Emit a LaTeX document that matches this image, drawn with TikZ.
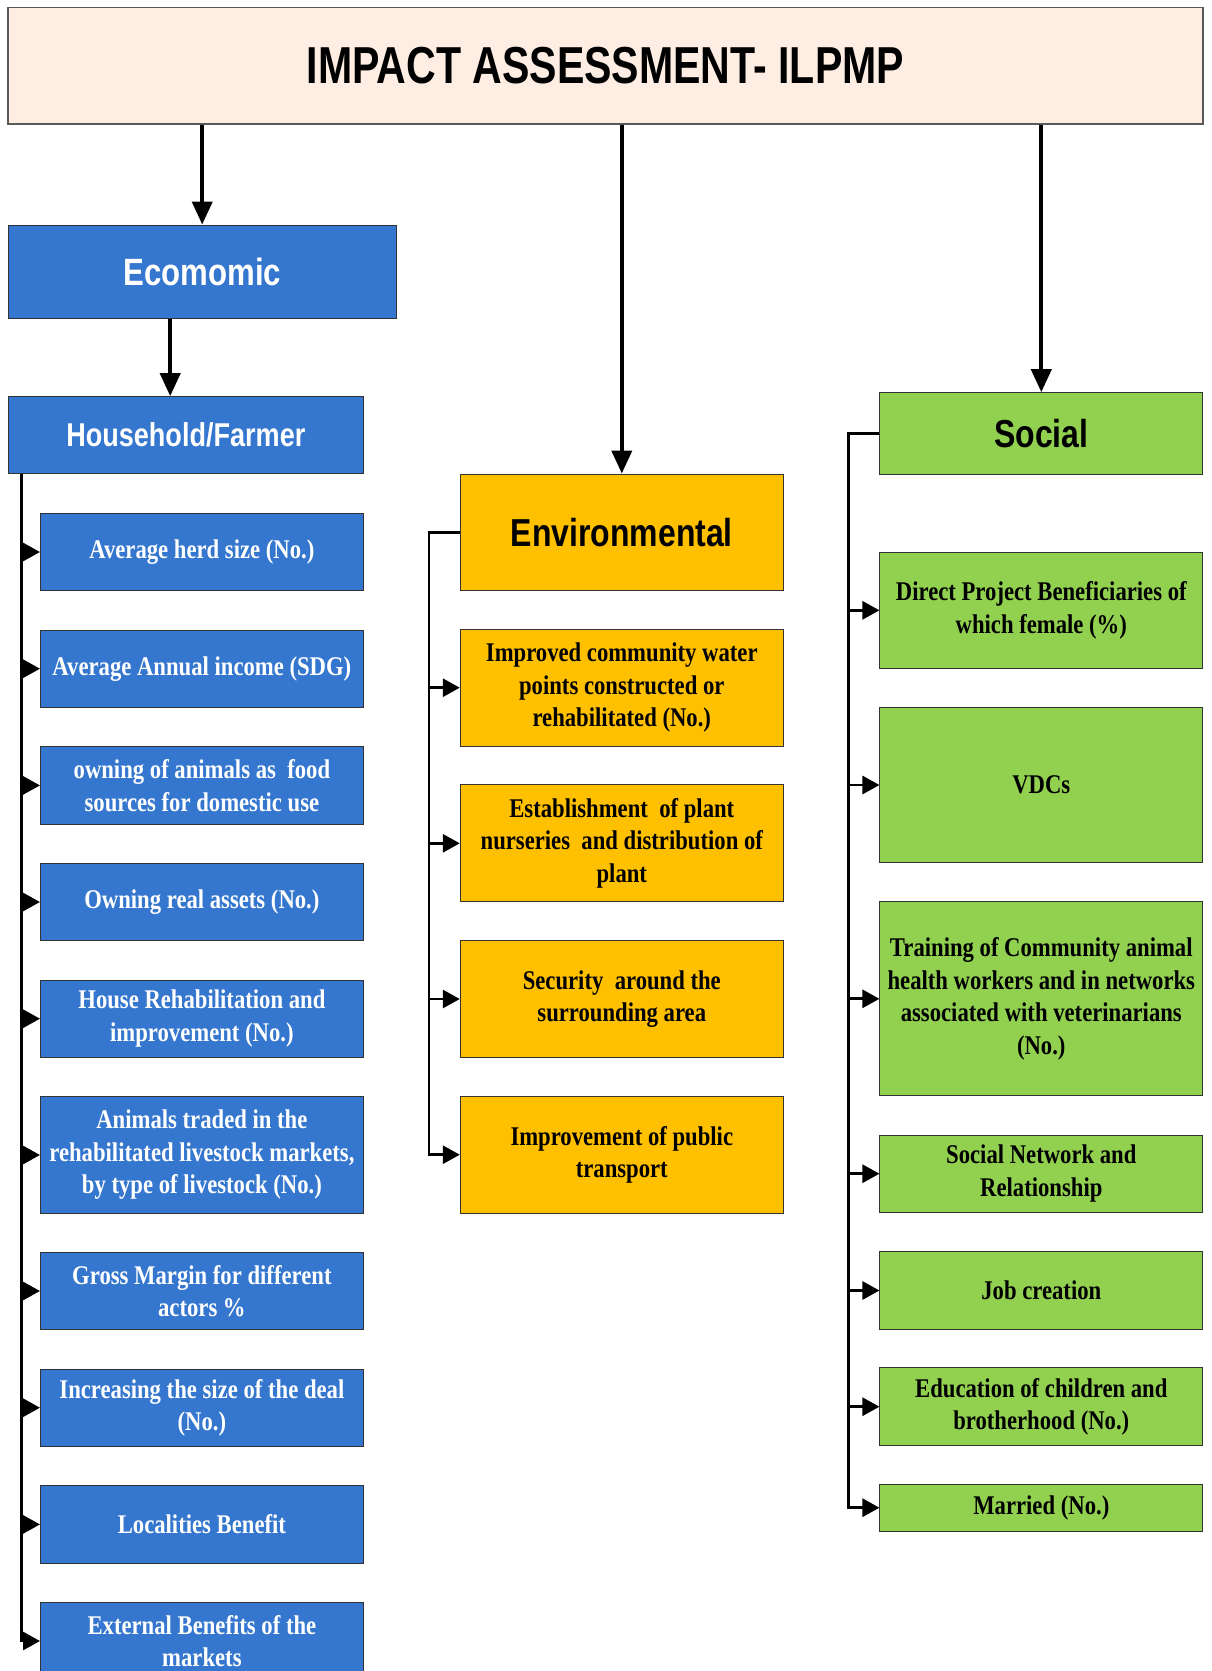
\documentclass[tikz,border=0pt]{standalone}
\usepackage{fontspec}
\usetikzlibrary{arrows.meta}
\newfontfamily\hdfont[FakeStretch=0.82]{Liberation Sans}
\newfontfamily\bannerfont[FakeStretch=0.79]{Liberation Sans}
\newfontfamily\itemfont[FakeStretch=0.84]{Liberation Serif}
\definecolor{ecoblue}{RGB}{53,119,206}
\definecolor{envgold}{RGB}{255,192,0}
\definecolor{socgreen}{RGB}{146,208,80}
\definecolor{titlefill}{RGB}{253,237,227}
\tikzset{
  box/.style={draw=black!80, line width=1pt, inner sep=0pt, align=center},
  headtext/.style={font=\hdfont\bfseries\fontsize{#1}{#1}\selectfont},
  itemtext/.style={font=\itemfont\bfseries\fontsize{27}{32.5}\selectfont},
  titlebox/.style={box, draw=black!65, line width=1.4pt, fill=titlefill,
    font=\bannerfont\bfseries\fontsize{52}{52}\selectfont},
  bluehead/.style={box, fill=ecoblue, text=white},
  bluebox/.style={box, fill=ecoblue, text=white, itemtext, minimum width=322.8pt},
  goldbox/.style={box, fill=envgold, itemtext, minimum width=323pt},
  greenbox/.style={box, fill=socgreen, itemtext, minimum width=322.7pt},
  toparrow/.style={line width=4pt, -{Triangle[length=23pt, width=20pt]}},
  conn/.style={line width=2.8pt},
  branch/.style={conn, -{Triangle[length=17pt, width=18pt]}}
}
\begin{document}
\begin{tikzpicture}[x=1pt, y=-1pt]
\useasboundingbox (0,0) rectangle (1211,1671);
\clip (0,0) rectangle (1211,1671);

% header
\node[titlebox, minimum width=1195pt, minimum height=116.5pt] (title) at (605.5,65.75) {\raisebox{1.5pt}{IMPACT ASSESSMENT- ILPMP}};

% economic branch
\node[bluehead, headtext=38, minimum width=387.7pt, minimum height=93.3pt] (econ) at (202.2,271.7) {Ecomomic};
\node[bluehead, headtext=33, minimum width=355pt, minimum height=77.3pt] (hh) at (185.8,435.3) {Household/Farmer};

\node[bluebox, minimum height=77.4pt] (b1) at (201.9,552.0) {Average herd size (No.)};
\node[bluebox, minimum height=77.4pt] (b2) at (201.9,668.7) {Average Annual income (SDG)};
\node[bluebox, minimum height=77.4pt] (b3) at (201.9,785.4) {owning of animals as\ \ food\\sources for domestic use};
\node[bluebox, minimum height=77.4pt] (b4) at (201.9,902.0) {Owning real assets (No.)};
\node[bluebox, minimum height=77.4pt] (b5) at (201.9,1018.7) {House Rehabilitation and\\improvement (No.)};
\node[bluebox, minimum height=116.7pt] (b6) at (201.9,1155.0) {Animals traded in the\\rehabilitated livestock markets,\\by type of livestock (No.)};
\node[bluebox, minimum height=77.4pt] (b7) at (201.9,1291.0) {Gross Margin for different\\actors \%};
\node[bluebox, minimum height=77.4pt] (b8) at (201.9,1407.7) {Increasing the size of the deal\\(No.)};
\node[bluebox, minimum height=77.4pt] (b9) at (201.9,1524.4) {Localities Benefit};
\node[bluebox, minimum height=77.4pt] (b10) at (201.9,1641.0) {External Benefits of the\\markets};

% environmental branch
\node[box, fill=envgold, headtext=39, minimum width=323pt, minimum height=116.3pt] (envh) at (621.8,532.2) {Environmental};
\node[goldbox, minimum height=116.7pt] (e1) at (621.8,687.7) {Improved community water\\points constructed or\\rehabilitated (No.)};
\node[goldbox, minimum height=116.7pt] (e2) at (621.8,843.3) {Establishment\ \ of plant\\nurseries\ \ and distribution of\\plant};
\node[goldbox, minimum height=116.7pt] (e3) at (621.8,999.0) {Security\ \ around the\\surrounding area};
\node[goldbox, minimum height=116.7pt] (e4) at (621.8,1154.7) {Improvement of public\\transport};

% social branch
\node[box, fill=socgreen, headtext=39, minimum width=322.7pt, minimum height=81.6pt] (soch) at (1041.3,433.5) {Social};
\node[greenbox, minimum height=116pt] (s1) at (1041.3,610.3) {Direct Project Beneficiaries of\\which female (\%)};
\node[greenbox, minimum height=155.4pt] (s2) at (1041.3,785.0) {VDCs};
\node[greenbox, minimum height=194.3pt] (s3) at (1041.3,998.8) {Training of Community animal\\health workers and in networks\\associated with veterinarians\\(No.)};
\node[greenbox, minimum height=77.3pt] (s4) at (1041.3,1173.7) {Social Network and\\Relationship};
\node[greenbox, minimum height=77.6pt] (s5) at (1041.3,1290.5) {Job creation};
\node[greenbox, minimum height=78pt] (s6) at (1041.3,1406.7) {Education of children and\\brotherhood (No.)};
\node[greenbox, minimum height=46.7pt] (s7) at (1041.3,1507.7) {Married (No.)};

% arrows from the header
\draw[toparrow] (title.south -| econ.north) -- (econ.north);
\draw[toparrow] (title.south -| envh.north) -- (envh.north);
\draw[toparrow] (title.south -| soch.north) -- (soch.north);
\draw[toparrow] ([xshift=-32pt]econ.south) -- ([xshift=-32pt]econ.south |- hh.north);

% spines of the three lists
\coordinate (lspine) at (21.5,0);
\coordinate (espine) at (429,0);
\coordinate (sspine) at (848.5,0);

\draw[branch] (lspine |- hh.south) |- (b10.west);
\foreach \n in {b1,b2,b3,b4,b5,b6,b7,b8,b9}
  \draw[branch] (lspine |- \n.west) -- (\n.west);

\draw[branch] (envh.west) -- (espine |- envh.west) |- (e4.west);
\foreach \n in {e1,e2,e3}
  \draw[branch] (espine |- \n.west) -- (\n.west);

\draw[branch] (soch.west) -- (sspine |- soch.west) |- (s7.west);
\foreach \n in {s1,s2,s3,s4,s5,s6}
  \draw[branch] (sspine |- \n.west) -- (\n.west);
\end{tikzpicture}
\end{document}
